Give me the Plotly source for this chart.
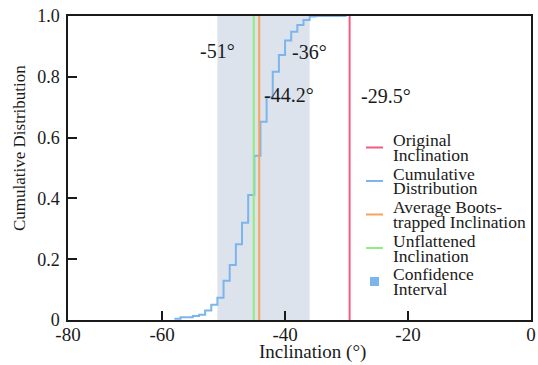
import plotly.graph_objects as go

# Bootstrapped inclination CDF (degrees vs cumulative fraction)
cdf_inclination = [-58, -57, -55, -54, -53, -52, -51, -50, -49, -48, -47, -46,
                   -45, -44, -43, -42, -41, -40, -39, -38, -37, -36, -35, -30]
cdf_fraction = [0.004, 0.009, 0.013, 0.017, 0.031, 0.050, 0.073, 0.129, 0.181,
                0.249, 0.320, 0.411, 0.540, 0.652, 0.733, 0.817, 0.872, 0.919,
                0.948, 0.970, 0.987, 0.998, 1.0, 1.0]

original_inclination = -29.5
average_bootstrapped = -44.2
unflattened_inclination = -45.1
confidence_interval = [-51, -36]

x_tick_values = [-75.3, -60, -40, -20, 0]
x_tick_labels = ["-80", "-60", "-40", "-20", "0"]
y_tick_values = [0, 0.2, 0.4, 0.6, 0.8, 1.0]
y_tick_labels = ["0", "0.2", "0.4", "0.6", "0.8", "1.0"]

legend_labels = [
    ("Original", "Inclination"),
    ("Cumulative", "Distribution"),
    ("Average Boots-", "trapped Inclination"),
    ("Unflattened", "Inclination"),
    ("Confidence", "Interval"),
]

RED = "#f15c80"
BLUE = "#7cb5ec"
ORANGE = "#f7a35c"
GREEN = "#90ed7d"
BAND = "#dce3ec"
INK = "#1a1a1a"
FONT = "Liberation Serif"

W, H = 538, 365
M = dict(l=68, r=7, t=16, b=45)
PW, PH = W - M["l"] - M["r"], H - M["t"] - M["b"]


def px_x(px):
    return (px - M["l"]) / PW


def px_y(py):
    return (H - M["b"] - py) / PH


fig = go.Figure()

fig.add_trace(go.Scatter(
    x=cdf_inclination, y=cdf_fraction, mode="lines", line_shape="hv",
    line=dict(color=BLUE, width=2), showlegend=False, hoverinfo="skip"))

# confidence band
fig.add_shape(type="rect", xref="x", yref="paper",
              x0=confidence_interval[0], x1=confidence_interval[1], y0=0, y1=1,
              fillcolor=BAND, line_width=0, layer="below")

for xv, col in [(unflattened_inclination, GREEN),
                (average_bootstrapped, ORANGE),
                (original_inclination, RED)]:
    fig.add_shape(type="line", xref="x", yref="paper", x0=xv, x1=xv, y0=0, y1=1,
                  line=dict(color=col, width=2), layer="above")

label_font = dict(family=FONT, size=20, color=INK)
fig.add_annotation(x=confidence_interval[0], y=px_y(51), yref="paper",
                   text=f"{confidence_interval[0]}°", showarrow=False,
                   xanchor="center", yanchor="middle", font=label_font)
fig.add_annotation(x=confidence_interval[1], y=px_y(52), yref="paper",
                   text=f"{confidence_interval[1]}°", showarrow=False,
                   xanchor="center", yanchor="middle", font=label_font)
fig.add_annotation(x=average_bootstrapped, y=px_y(95), yref="paper",
                   text=f"{average_bootstrapped}°", showarrow=False,
                   xanchor="left", yanchor="middle", xshift=3, font=label_font)
fig.add_annotation(x=original_inclination, y=px_y(96), yref="paper",
                   text=f"{original_inclination}°", showarrow=False,
                   xanchor="left", yanchor="middle", xshift=9, font=label_font)

# legend drawn by hand: short line / square sample and two text rows
legend_colors = [RED, BLUE, ORANGE, GREEN, BLUE]
legend_top = 140
entry_gap = 33.5
row_gap = 15
leg_font = dict(family=FONT, size=17.5, color=INK)
for i, ((l1, l2), col) in enumerate(zip(legend_labels, legend_colors)):
    y1 = legend_top + i * entry_gap
    y2 = y1 + row_gap
    ym = (y1 + y2) / 2
    if i == len(legend_labels) - 1:
        fig.add_shape(type="rect", xref="paper", yref="paper",
                      x0=px_x(370), x1=px_x(379), y0=px_y(ym - 4.5), y1=px_y(ym + 4.5),
                      fillcolor=col, line_width=0)
    else:
        fig.add_shape(type="line", xref="paper", yref="paper",
                      x0=px_x(366), x1=px_x(383), y0=px_y(ym), y1=px_y(ym),
                      line=dict(color=col, width=2))
    for txt, yy in [(l1, y1), (l2, y2)]:
        fig.add_annotation(x=px_x(391), y=px_y(yy), xref="paper", yref="paper",
                           text=txt, showarrow=False, xanchor="left",
                           yanchor="middle", font=leg_font)

# axis titles
fig.add_annotation(x=px_x(312), y=px_y(352), xref="paper", yref="paper",
                   text="Inclination (°)", showarrow=False,
                   xanchor="center", yanchor="middle",
                   font=dict(family=FONT, size=19, color=INK))
fig.add_annotation(x=px_x(19), y=px_y(148), xref="paper", yref="paper",
                   text="Cumulative Distribution", showarrow=False, textangle=-90,
                   xanchor="center", yanchor="middle",
                   font=dict(family=FONT, size=17, color=INK))

axis_common = dict(showline=True, linecolor=INK, linewidth=1.5, mirror=True,
                   ticks="inside", ticklen=9, tickwidth=1.5, tickcolor=INK,
                   showgrid=False, zeroline=False, automargin=False)

fig.update_xaxes(range=[x_tick_values[0], 0], tickmode="array",
                 tickvals=x_tick_values, ticktext=x_tick_labels,
                 ticklabelstandoff=-4,
                 tickfont=dict(family=FONT, size=19, color=INK),
                 **axis_common)
fig.update_yaxes(range=[0, 1], tickmode="array",
                 tickvals=y_tick_values, ticktext=y_tick_labels,
                 ticklabelstandoff=3,
                 tickfont=dict(family=FONT, size=18, color=INK),
                 **axis_common)

fig.update_layout(width=W, height=H, margin=M, plot_bgcolor="white",
                  paper_bgcolor="white", showlegend=False,
                  font=dict(family=FONT, color=INK))

fig.write_html("out.html")
